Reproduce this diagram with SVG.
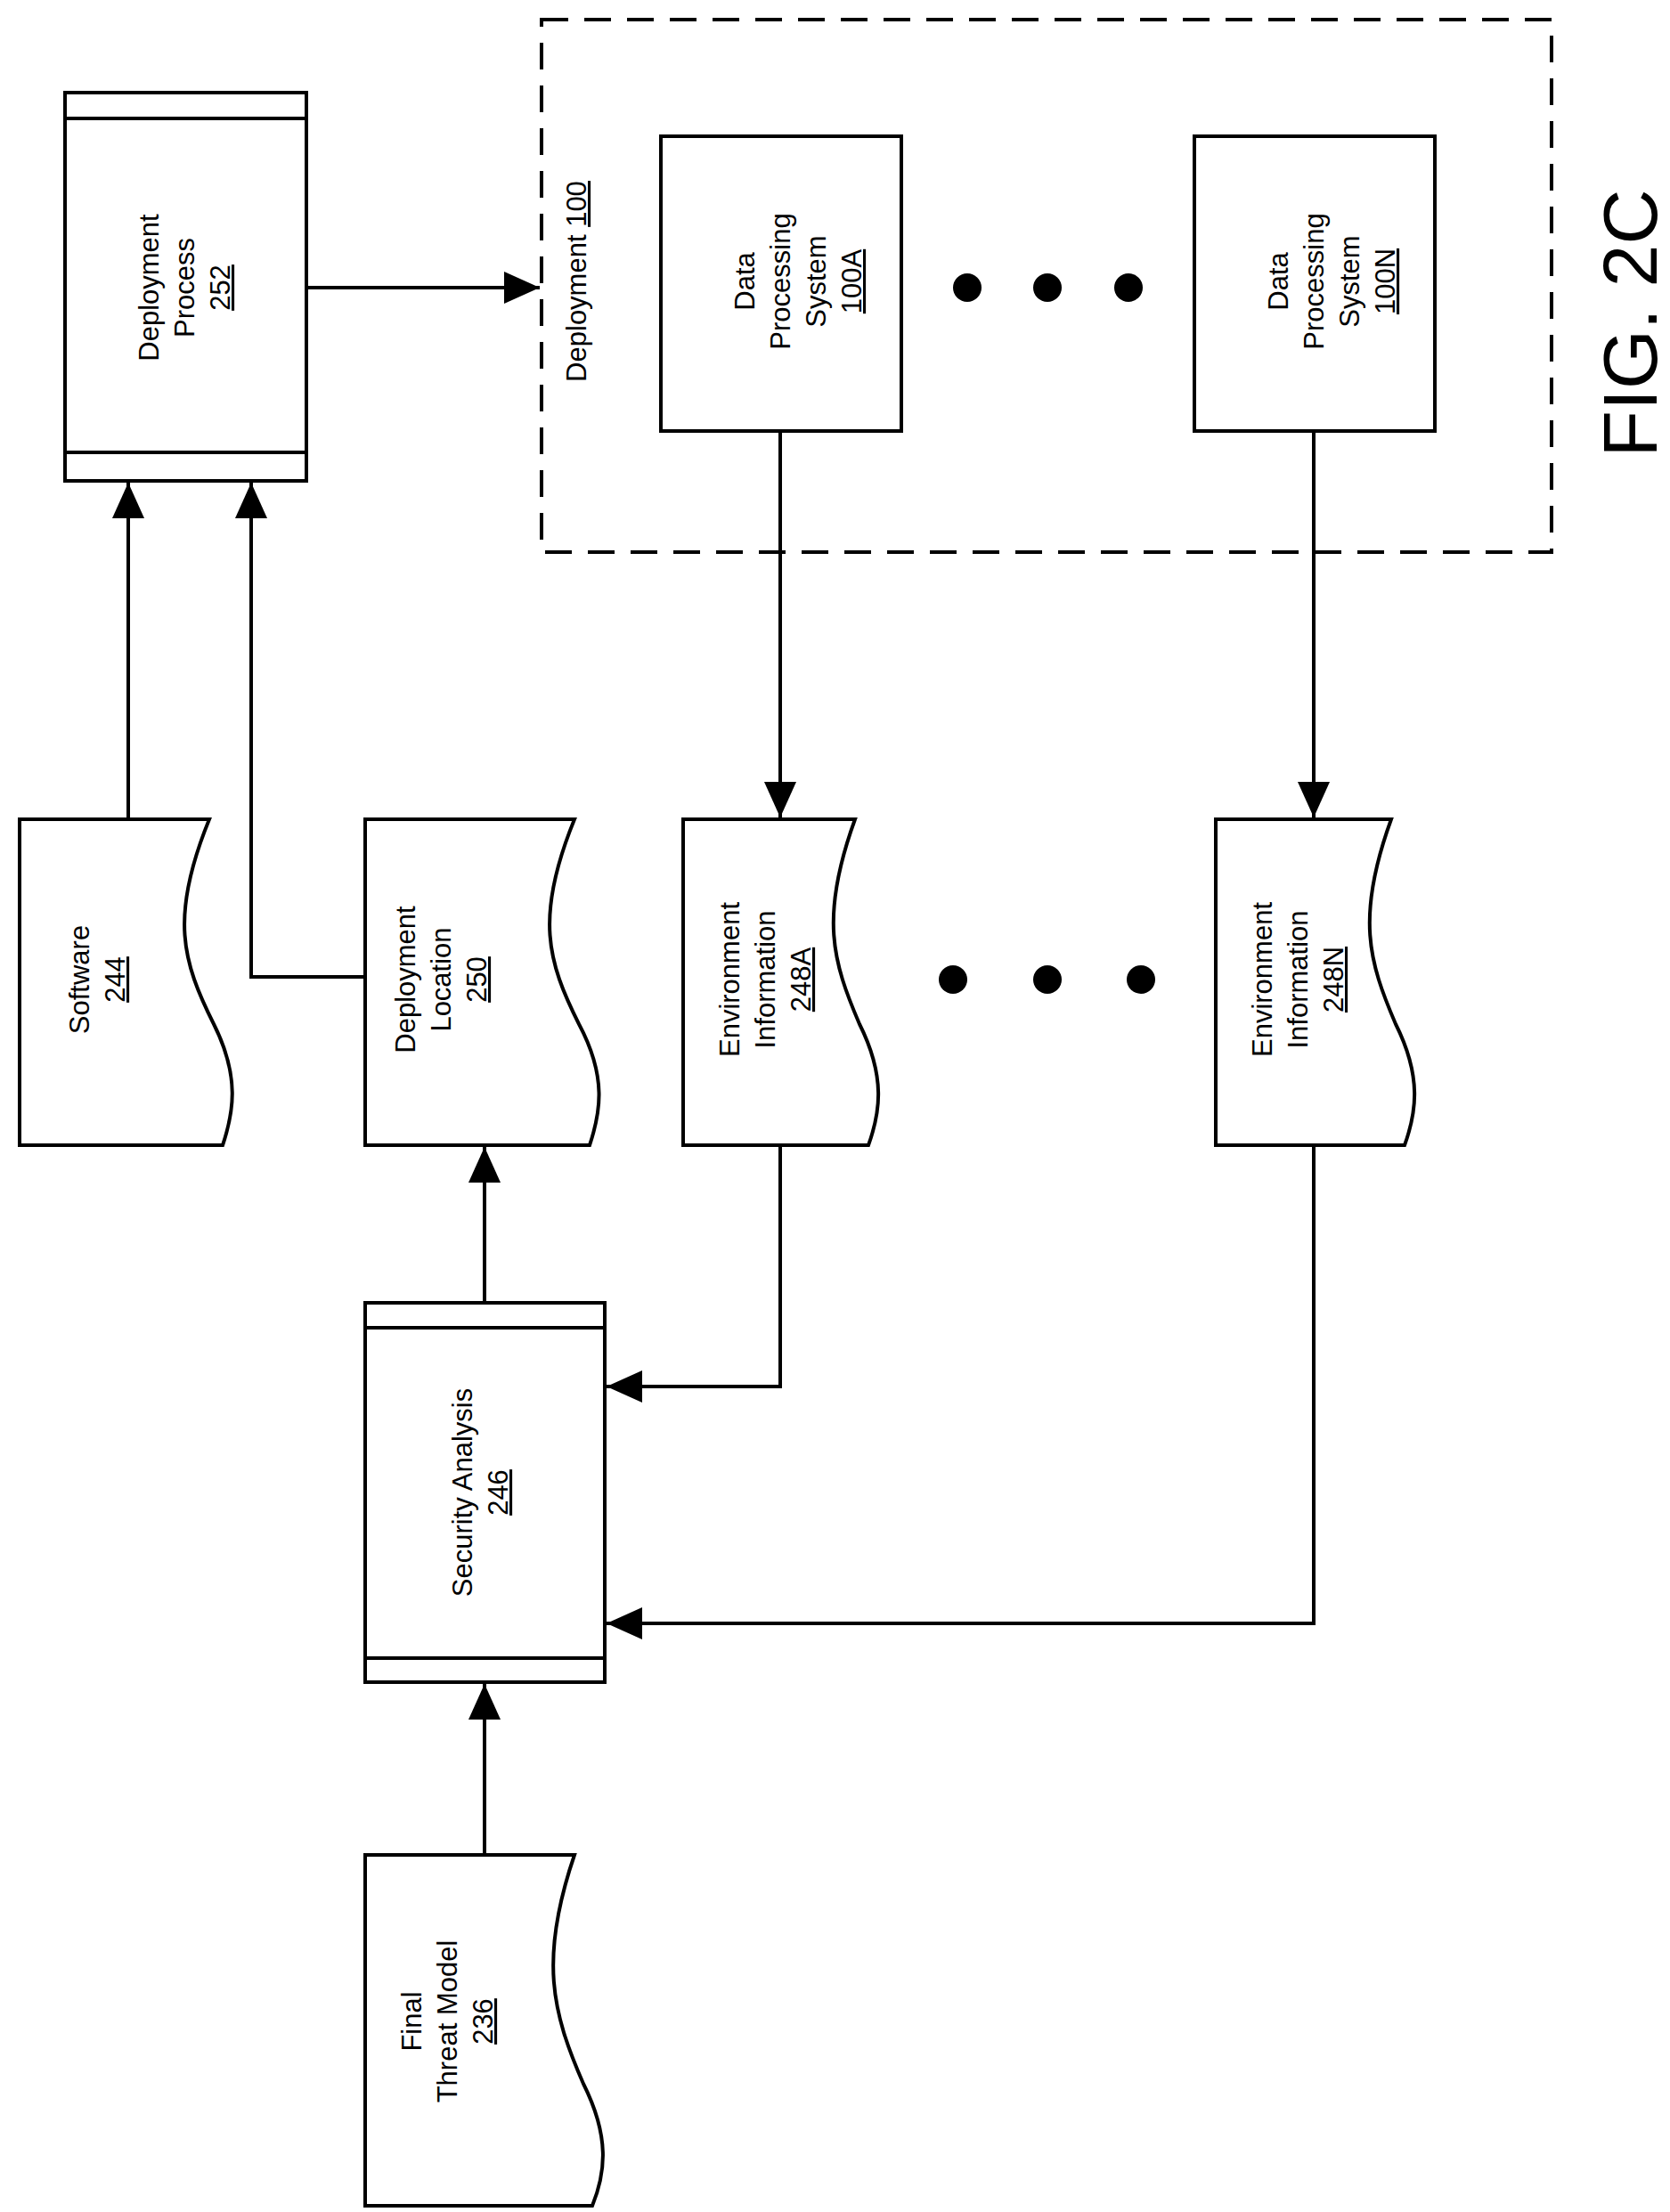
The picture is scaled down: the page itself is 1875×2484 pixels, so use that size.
<svg xmlns="http://www.w3.org/2000/svg" width="1875" height="2484" viewBox="0 0 1875 2484">
<style>
.s{fill:#fff;stroke:#000;stroke-width:4}
.l{fill:none;stroke:#000;stroke-width:4}
.t{font-family:"Liberation Sans",Arial,sans-serif;font-size:31px;text-anchor:middle}
.u{text-decoration:underline}
</style>
<defs>
<marker id="a" markerWidth="10" markerHeight="10" refX="9" refY="5" orient="auto" markerUnits="userSpaceOnUse" viewBox="0 0 10 10"><path d="M0,0 L10,5 L0,10 Z"/></marker>
</defs>
<rect width="1875" height="2484" fill="#fff"/>
<defs><marker id="m" markerWidth="40" markerHeight="36" refX="40" refY="18" orient="auto" markerUnits="userSpaceOnUse"><path d="M0,0 L40,18 L0,36 Z"/></marker></defs>
<g id="connectors" class="l">
<path d="M344,323 H606" marker-end="url(#m)"/>
<path d="M144,920 V542" marker-end="url(#m)"/>
<path d="M410,1097 H282 V542" marker-end="url(#m)"/>
<path d="M544,1463 V1288" marker-end="url(#m)"/>
<path d="M876,484 V918" marker-end="url(#m)"/>
<path d="M1475,484 V918" marker-end="url(#m)"/>
<path d="M876,1286 V1557 H681" marker-end="url(#m)"/>
<path d="M1475,1286 V1823 H681" marker-end="url(#m)"/>
<path d="M544,2083 V1891" marker-end="url(#m)"/>
</g>
<g id="deployment100">
<rect x="608" y="22" width="1134" height="598" fill="none" stroke="#000" stroke-width="4" stroke-dasharray="30,18"/>
<text class="t" transform="translate(658,316) rotate(-90)">Deployment <tspan class="u">100</tspan></text>
</g>
<g id="dp252">
<rect class="s" x="73" y="104" width="271" height="436"/>
<path class="l" d="M73,133 H344 M73,508 H344"/>
<text class="t" transform="translate(208,323) rotate(-90)"><tspan x="0" dy="-30">Deployment</tspan><tspan x="0" dy="40">Process</tspan><tspan x="0" dy="40" class="u">252</tspan></text>
</g>
<g id="dps100a">
<rect class="s" x="742" y="153" width="270" height="331"/>
<text class="t" transform="translate(877,316) rotate(-90)"><tspan x="0" dy="-30">Data</tspan><tspan x="0" dy="40">Processing</tspan><tspan x="0" dy="40">System</tspan><tspan x="0" dy="40" class="u">100A</tspan></text>
</g>
<g id="dps100n">
<rect class="s" x="1341" y="153" width="270" height="331"/>
<text class="t" transform="translate(1476,316) rotate(-90)"><tspan x="0" dy="-30">Data</tspan><tspan x="0" dy="40">Processing</tspan><tspan x="0" dy="40">System</tspan><tspan x="0" dy="40" class="u">100N</tspan></text>
</g>
<g id="dots1"><circle cx="1086" cy="323" r="16"/><circle cx="1176" cy="323" r="16"/><circle cx="1267" cy="323" r="16"/></g>
<g id="dots2"><circle cx="1070" cy="1100" r="16"/><circle cx="1176" cy="1100" r="16"/><circle cx="1281" cy="1100" r="16"/></g>
<g id="fig"><text transform="translate(1860,363) rotate(-90)" style="font-family:'Liberation Sans',Arial,sans-serif;font-size:86px;text-anchor:middle">FIG. 2C</text></g>
<g id="software244">
<path class="s" d="M22,920 H235 C190,1030 205,1080 240,1150 C270,1210 262,1250 250,1286 H22 Z"/>
<text class="t" transform="translate(100,1100) rotate(-90)"><tspan x="0" dy="0">Software</tspan><tspan x="0" dy="40" class="u">244</tspan></text>
</g>
<g id="deploc250">
<path class="s" d="M410,920 H645 C600,1030 615,1080 650,1150 C682,1210 674,1250 662,1286 H410 Z"/>
<text class="t" transform="translate(496,1100) rotate(-90)"><tspan x="0" dy="-30">Deployment</tspan><tspan x="0" dy="40">Location</tspan><tspan x="0" dy="40" class="u">250</tspan></text>
</g>
<g id="env248a">
<path class="s" d="M767,920 H960 C920,1030 935,1080 965,1150 C995,1210 988,1250 975,1286 H767 Z"/>
<text class="t" transform="translate(860,1100) rotate(-90)"><tspan x="0" dy="-30">Environment</tspan><tspan x="0" dy="40">Information</tspan><tspan x="0" dy="40" class="u">248A</tspan></text>
</g>
<g id="env248n">
<path class="s" d="M1365,920 H1562 C1522,1030 1537,1080 1567,1150 C1597,1210 1590,1250 1577,1286 H1365 Z"/>
<text class="t" transform="translate(1458,1100) rotate(-90)"><tspan x="0" dy="-30">Environment</tspan><tspan x="0" dy="40">Information</tspan><tspan x="0" dy="40" class="u">248N</tspan></text>
</g>
<g id="sec246">
<rect class="s" x="410" y="1463" width="269" height="426"/>
<path class="l" d="M410,1491 H679 M410,1862 H679"/>
<text class="t" transform="translate(530,1676) rotate(-90)"><tspan x="0" dy="0">Security Analysis</tspan><tspan x="0" dy="40" class="u">246</tspan></text>
</g>
<g id="ftm236">
<path class="s" d="M410,2083 H645 C605,2200 620,2260 655,2340 C685,2400 680,2440 665,2477 H410 Z"/>
<text class="t" transform="translate(503,2270) rotate(-90)"><tspan x="0" dy="-30">Final</tspan><tspan x="0" dy="40">Threat Model</tspan><tspan x="0" dy="40" class="u">236</tspan></text>
</g>
</svg>
